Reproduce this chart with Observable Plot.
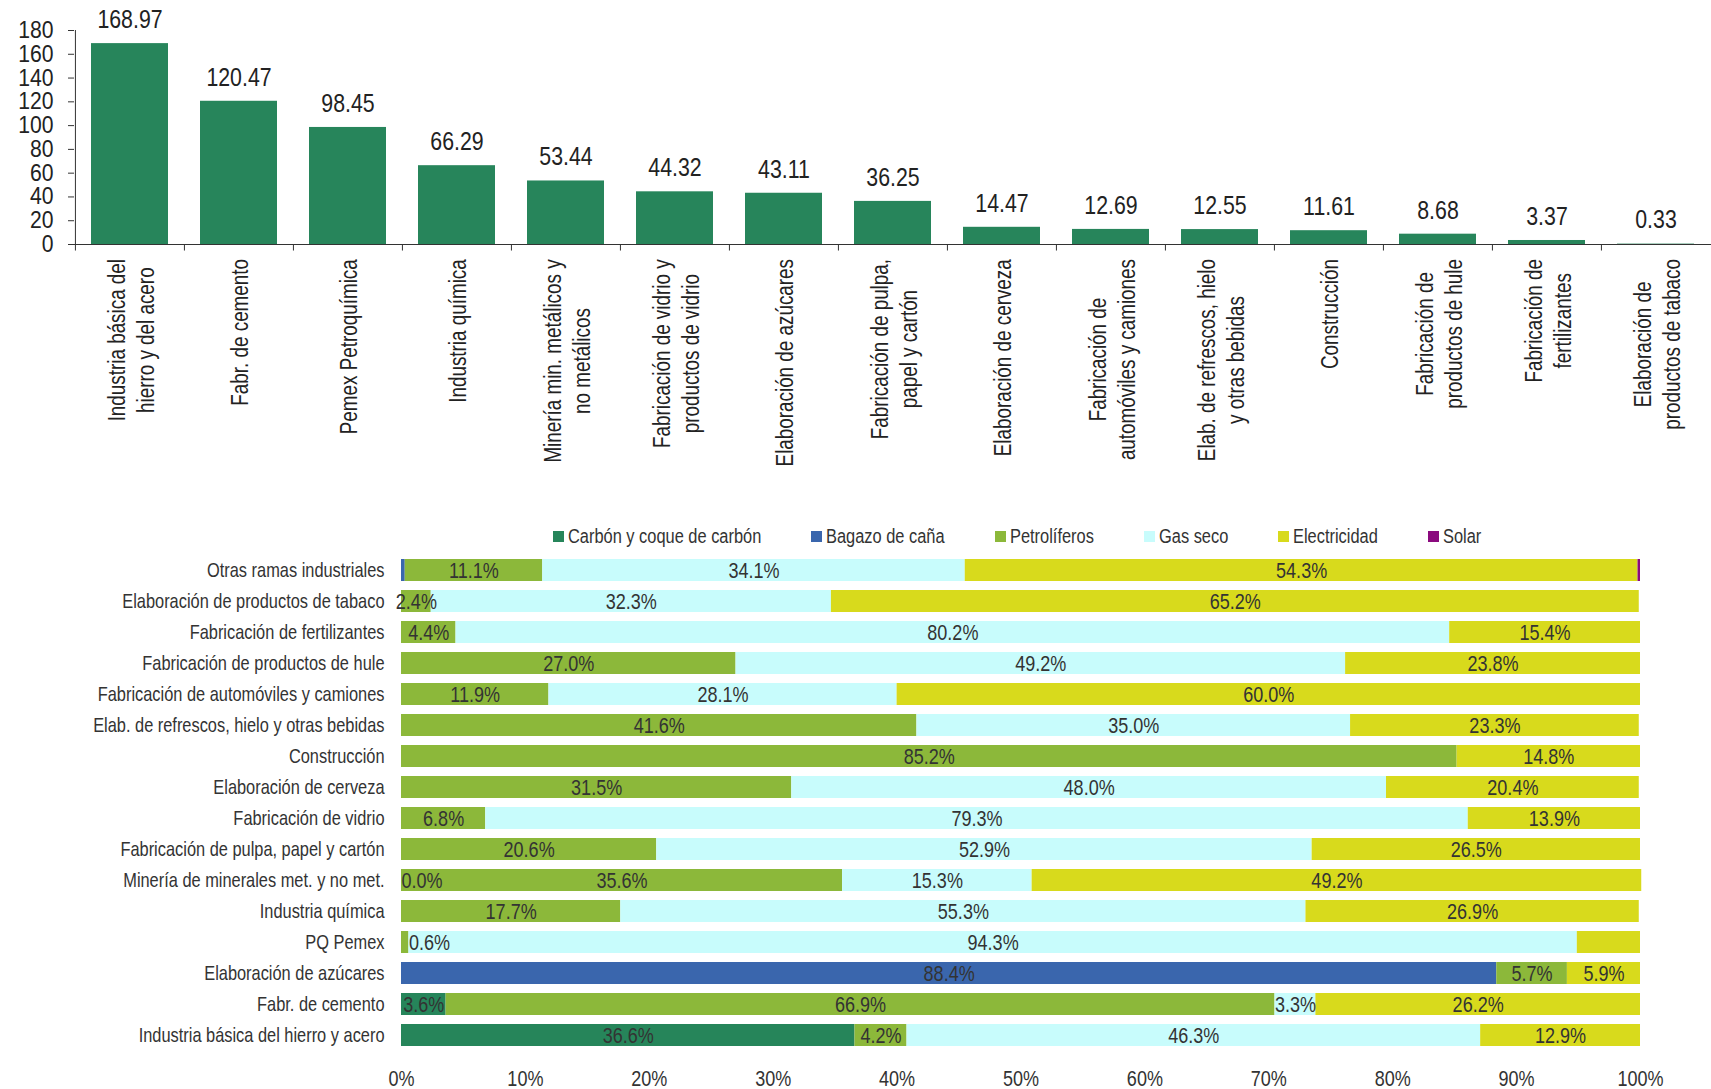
<!DOCTYPE html>
<html>
<head>
<meta charset="utf-8">
<script src="https://cdn.jsdelivr.net/npm/d3@7"></script>
<script src="https://cdn.jsdelivr.net/npm/@observablehq/plot@0.6"></script>
<style>
  html, body { margin: 0; padding: 0; background: #fff; }
  #top, #bottom { display: block; line-height: 0; }
  .legend { height: 30px; display: flex; align-items: center; padding-left: 553px;
            font-family: 'Liberation Sans', Arial, sans-serif;
            font-size: 20px; color: #333; }
  .legend .item { display: flex; align-items: center; margin-right: 50px; white-space: nowrap; }
  .legend .sw { width: 11px; height: 11px; margin-right: 4px; flex: none; }
  .legend .tx { display: inline-block; white-space: nowrap; transform-origin: 0 50%; }
</style>
</head>
<body>
<div id="top"></div>
<div class="legend" id="legend"></div>
<div id="bottom"></div>
<script>
const F = "'Liberation Sans', Arial, sans-serif";
const NARROW = 0.82; // Arial -> Arial Narrow proportion

// ---------- Top chart data ----------
const categories = [
  "Industria básica del\nhierro y del acero",
  "Fabr. de cemento",
  "Pemex Petroquímica",
  "Industria química",
  "Minería min. metálicos y\nno metálicos",
  "Fabricación de vidrio y\nproductos de vidrio",
  "Elaboración de azúcares",
  "Fabricación de pulpa,\npapel y cartón",
  "Elaboración de cerveza",
  "Fabricación de\nautomóviles y camiones",
  "Elab. de refrescos, hielo\ny otras bebidas",
  "Construcción",
  "Fabricación de\nproductos de hule",
  "Fabricación de\nfertilizantes",
  "Elaboración de\nproductos de tabaco"
];
const consumption = [168.97, 120.47, 98.45, 66.29, 53.44, 44.32, 43.11, 36.25, 14.47, 12.69, 12.55, 11.61, 8.68, 3.37, 0.33];
const yTicks = [0, 20, 40, 60, 80, 100, 120, 140, 160, 180];

// ---------- Bottom chart data ----------
const rows = [
  "Otras ramas industriales",
  "Elaboración de productos de tabaco",
  "Fabricación de fertilizantes",
  "Fabricación de productos de hule",
  "Fabricación de automóviles y camiones",
  "Elab. de refrescos, hielo y otras bebidas",
  "Construcción",
  "Elaboración de cerveza",
  "Fabricación de vidrio",
  "Fabricación de pulpa, papel y cartón",
  "Minería de minerales met. y no met.",
  "Industria química",
  "PQ Pemex",
  "Elaboración de azúcares",
  "Fabr. de cemento",
  "Industria básica del hierro y acero"
];
const sources = ["Carbón y coque de carbón", "Bagazo de caña", "Petrolíferos", "Gas seco", "Electricidad", "Solar"];
const colors  = ["#26855a", "#3a66ad", "#8cb83a", "#c8fcfc", "#d8da1c", "#8b0a7e"];
const carbon  = [null, null, null, null, null, null, null, null, null, null, 0.0, null, null, null, 3.6, 36.6];
const bagazo  = [0.3, null, null, null, null, null, null, null, null, null, null, null, null, 88.4, null, null];
const petro   = [11.1, 2.4, 4.4, 27.0, 11.9, 41.6, 85.2, 31.5, 6.8, 20.6, 35.6, 17.7, 0.6, 5.7, 66.9, 4.2];
const gas     = [34.1, 32.3, 80.2, 49.2, 28.1, 35.0, null, 48.0, 79.3, 52.9, 15.3, 55.3, 94.3, null, 3.3, 46.3];
const elec    = [54.3, 65.2, 15.4, 23.8, 60.0, 23.3, 14.8, 20.4, 13.9, 26.5, 49.2, 26.9, 5.1, 5.9, 26.2, 12.9];
const solar   = [0.2, null, null, null, null, null, null, null, null, null, null, null, null, null, null, null];
const unlabeled = [
  ["Otras ramas industriales", "Bagazo de caña"],
  ["Otras ramas industriales", "Solar"],
  ["PQ Pemex", "Electricidad"]
];
const xTicks = [0, 10, 20, 30, 40, 50, 60, 70, 80, 90, 100];

// horizontally condense text elements (emulates a narrow typeface)
function condense(svg, k, selector = "text") {
  svg.querySelectorAll(selector).forEach(t => {
    if (t.dataset.condensed) return;
    t.dataset.condensed = "1";
    const tr = t.getAttribute("transform");
    if (tr) {
      t.setAttribute("transform", tr + ` scale(${k},1)`);
    } else {
      const x = +t.getAttribute("x") || 0, y = +t.getAttribute("y") || 0;
      t.setAttribute("transform", `translate(${x},${y}) scale(${k},1) translate(${-x},${-y})`);
    }
  });
}

// ---------- Top chart ----------
const topData = categories.map((c, i) => ({cat: c, value: consumption[i]}));
const W = 1711, mL = 74, mR = 0;
const bw = (W - mL - mR) / categories.length;

const topChart = Plot.plot({
  width: W, height: 521,
  marginLeft: mL, marginRight: mR, marginTop: 30, marginBottom: 277,
  x: {domain: categories, padding: 0, axis: null},
  y: {domain: [0, 180], axis: null},
  style: {fontFamily: F, fontSize: "26px", color: "#222", background: "white", overflow: "visible"},
  marks: [
    Plot.axisY({ticks: yTicks, tickSize: 6, tickPadding: 15, fontSize: 23.5, label: null, stroke: "#333"}),
    Plot.barY(topData, {x: "cat", y: "value", fill: "#27855b", insetLeft: 16, insetRight: 16}),
    Plot.ruleX([categories[0]], {x: d => d, dx: -bw / 2, y1: 0, y2: 180, stroke: "#333"}),
    Plot.ruleY([0], {stroke: "#333"}),
    Plot.ruleX(categories, {x: d => d, dx: -bw / 2, y1: 0, y2: -5.5, stroke: "#333"}),
    Plot.text(topData, {x: "cat", y: "value", text: d => d.value.toFixed(2), dy: -24, fontSize: 26, fill: "#222"}),
    Plot.text(categories, {x: d => d, frameAnchor: "bottom", text: d => d, rotate: -90,
      textAnchor: "middle", lineAnchor: "middle", lineHeight: 1.25, fontSize: 23, fill: "#222"})
  ]
});
document.getElementById("top").appendChild(topChart);
condense(topChart, 0.9, 'g[aria-label="y-axis tick label"] text');
condense(topChart, NARROW);

// center each rotated label block so its top edge sits just below the axis
(function () {
  let y0 = 244;
  try { y0 = topChart.scale("y").apply(0); } catch (e) {}
  const target = y0 + 15;
  const svgTop = topChart.getBoundingClientRect().top;
  topChart.querySelectorAll('text[transform*="rotate"]').forEach(t => {
    const r = t.getBoundingClientRect();
    const shift = target - (r.top - svgTop);
    t.setAttribute("transform", `translate(0,${shift}) ` + t.getAttribute("transform"));
  });
})();

// ---------- Legend ----------
const legend = document.getElementById("legend");
sources.forEach((s, i) => {
  const item = document.createElement("div");
  item.className = "item";
  const sw = document.createElement("span");
  sw.className = "sw";
  sw.style.background = colors[i];
  const tx = document.createElement("span");
  tx.className = "tx";
  tx.textContent = s;
  item.appendChild(sw);
  item.appendChild(tx);
  legend.appendChild(item);
});
legend.querySelectorAll(".tx").forEach(tx => {
  const w = tx.getBoundingClientRect().width;
  tx.style.width = (w * NARROW) + "px";
  tx.style.transform = `scaleX(${NARROW})`;
});

// ---------- Bottom chart ----------
const series = [carbon, bagazo, petro, gas, elec, solar];
const segs = [];
rows.forEach((r, i) => {
  let acc = 0;
  series.forEach((s, j) => {
    const v = s[i];
    if (v == null) return;
    segs.push({row: r, source: sources[j], x1: acc, x2: acc + v, value: v,
               label: v.toFixed(1) + "%",
               show: !unlabeled.some(([a, b]) => a === r && b === sources[j])});
    acc += v;
  });
});
const shown = segs.filter(d => d.show);
const normal = shown.filter(d => d.value >= 1);
const tiny = shown.filter(d => d.value < 1);

const bottomChart = Plot.plot({
  width: W, height: 538,
  marginLeft: 401, marginRight: 71, marginTop: 4, marginBottom: 39,
  x: {domain: [0, 100], axis: null},
  y: {domain: rows, paddingInner: 0.3, paddingOuter: 0, axis: null},
  color: {domain: sources, range: colors},
  style: {fontFamily: F, fontSize: "20px", color: "#333", background: "white", overflow: "visible"},
  marks: [
    Plot.barX(segs, {x1: "x1", x2: "x2", y: "row", fill: "source"}),
    Plot.axisY({tickSize: 0, tickPadding: 17, fontSize: 20, label: null}),
    Plot.axisX({ticks: xTicks, tickFormat: d => d + "%", tickSize: 0, tickPadding: 20, fontSize: 22, label: null}),
    Plot.text(normal, {x: d => (d.x1 + d.x2) / 2, y: "row", text: "label", fontSize: 22, fill: "#333"}),
    Plot.text(tiny, {x: "x2", y: "row", text: "label", textAnchor: "start", fontSize: 22, fill: "#333"})
  ]
});
document.getElementById("bottom").appendChild(bottomChart);
condense(bottomChart, NARROW);
</script>
</body>
</html>
